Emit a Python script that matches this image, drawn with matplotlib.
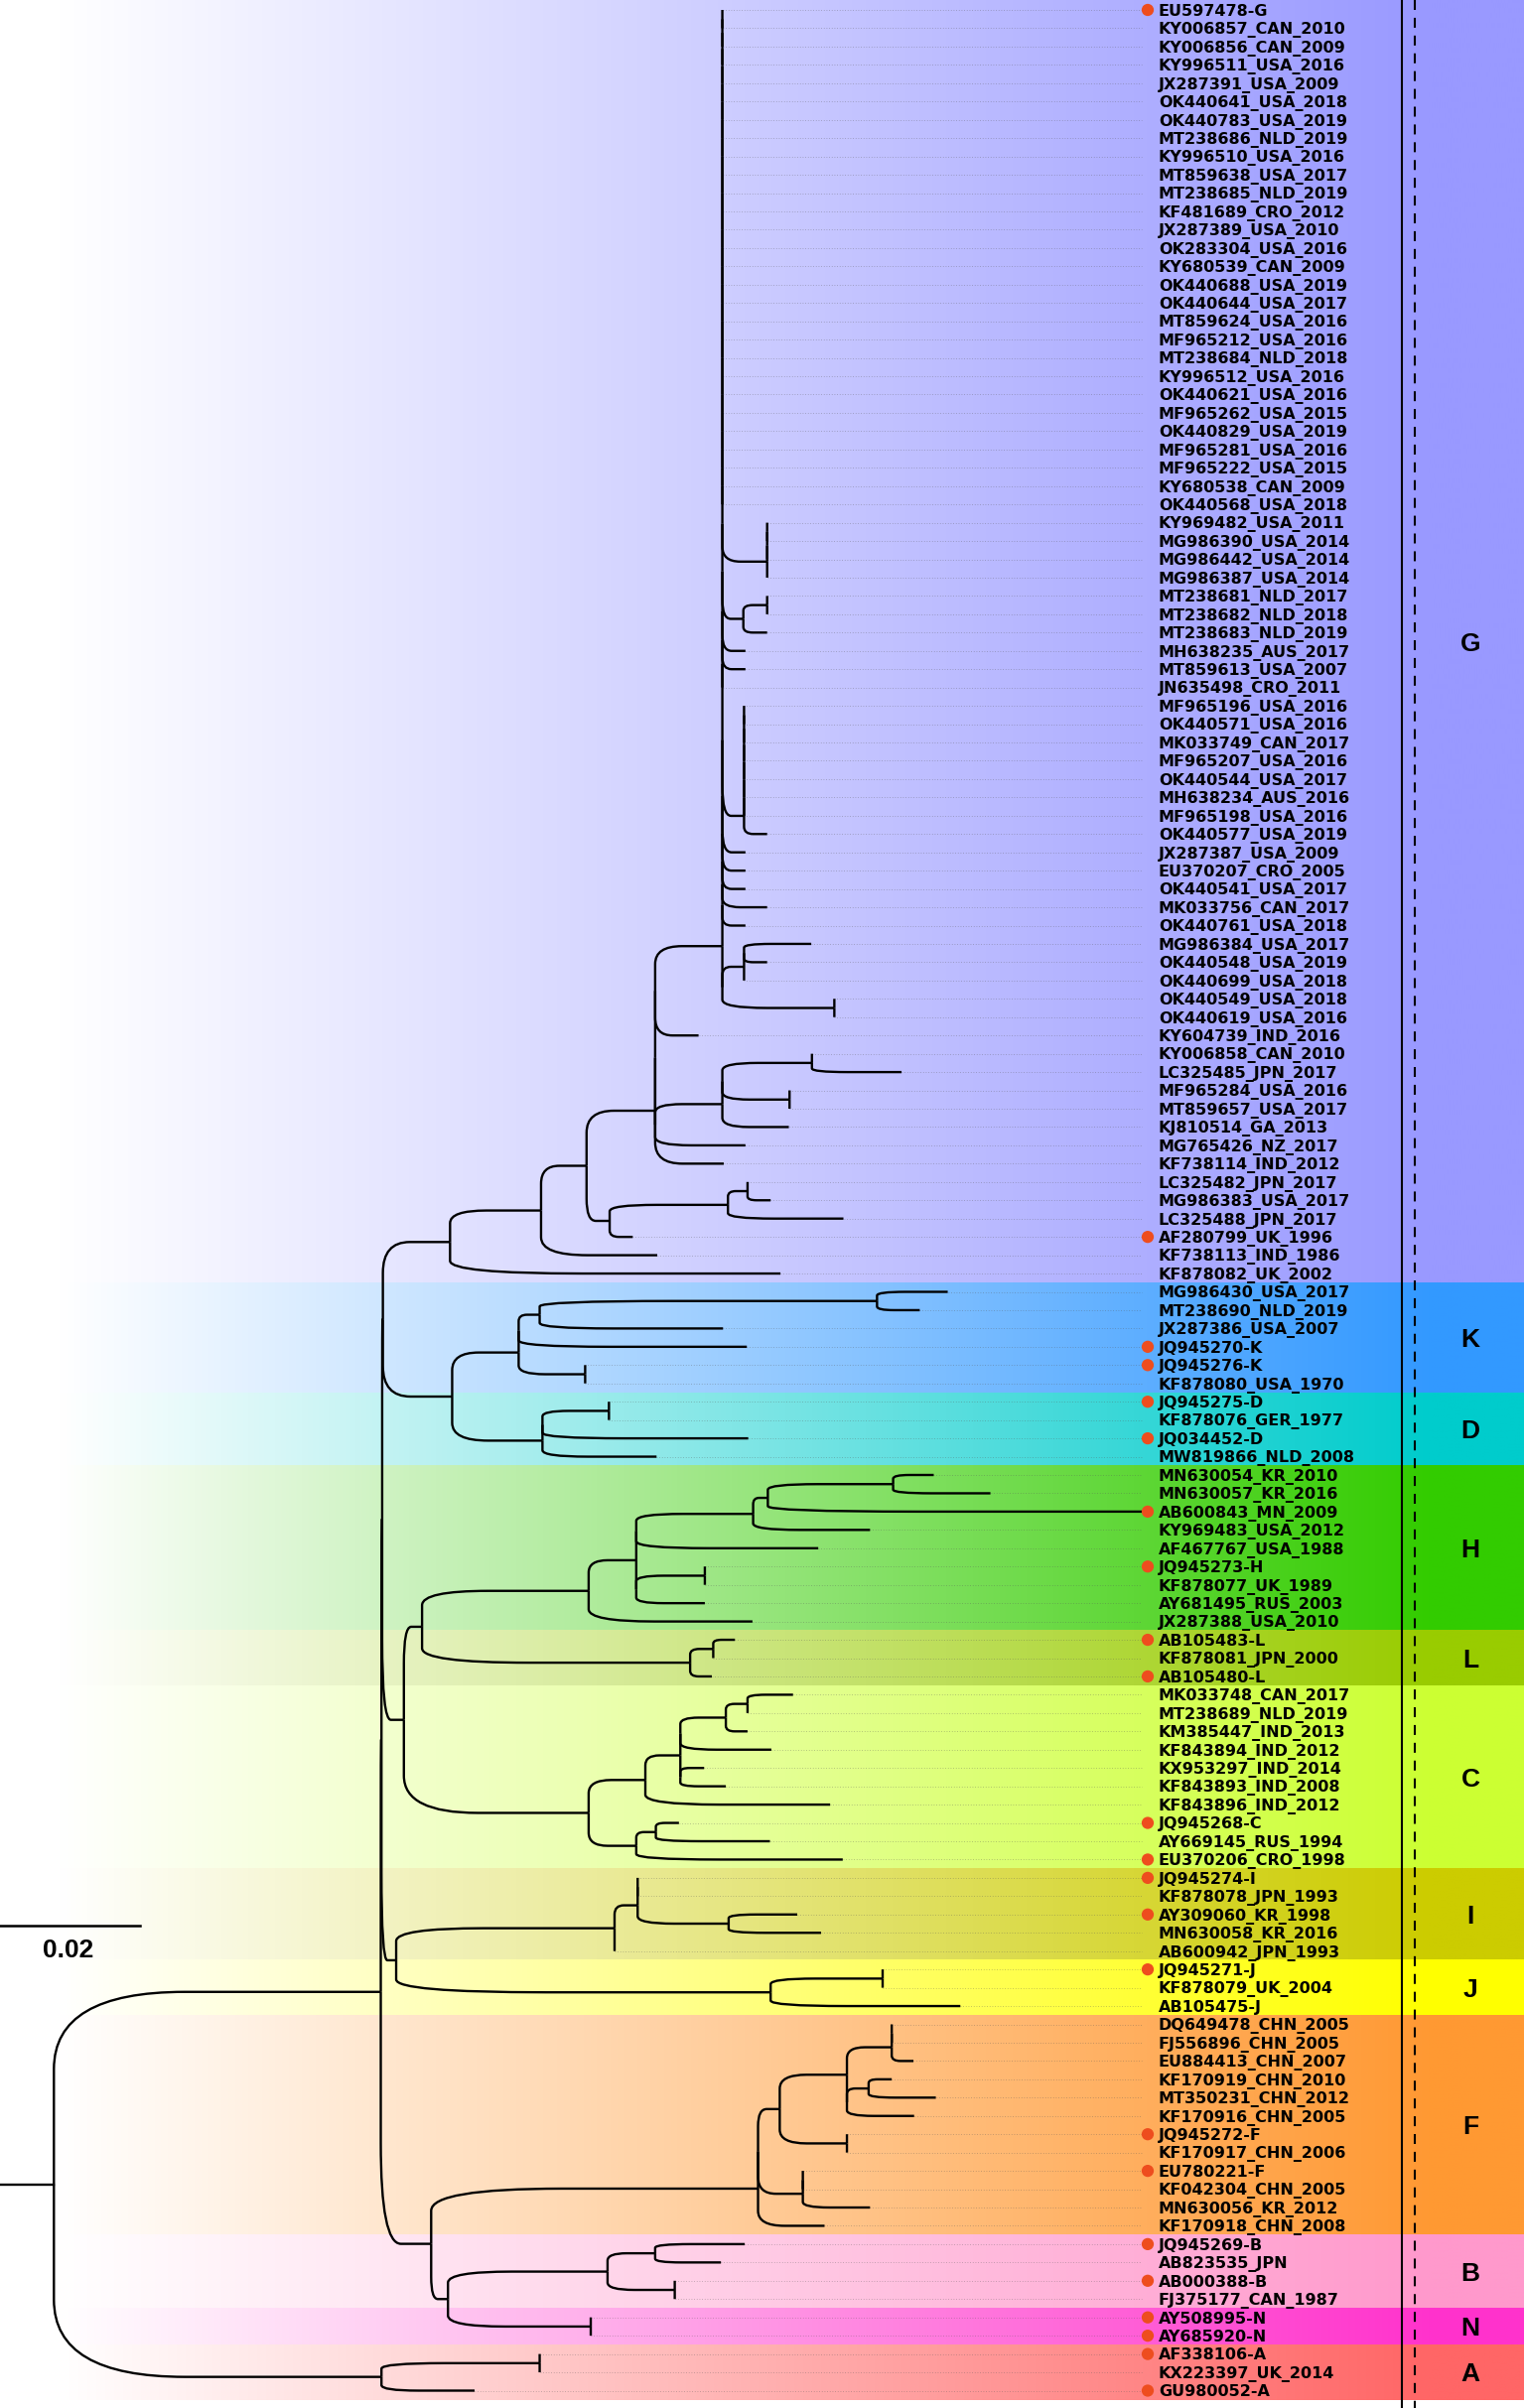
import numpy as np
import matplotlib
matplotlib.use("Agg")
import matplotlib.pyplot as plt
from matplotlib.path import Path
from matplotlib.patches import PathPatch

# ---- tree data: one Newick per genotype, branch lengths in substitutions/site ----
G_COMB = (
    "(EU597478-G:0,KY006857_CAN_2010:0,KY006856_CAN_2009:0,KY996511_USA_2016:0,"
    "JX287391_USA_2009:0,OK440641_USA_2018:0,OK440783_USA_2019:0,MT238686_NLD_2019:0,"
    "KY996510_USA_2016:0,MT859638_USA_2017:0,MT238685_NLD_2019:0,KF481689_CRO_2012:0,"
    "JX287389_USA_2010:0,OK283304_USA_2016:0,KY680539_CAN_2009:0,OK440688_USA_2019:0,"
    "OK440644_USA_2017:0,MT859624_USA_2016:0,MF965212_USA_2016:0,MT238684_NLD_2018:0,"
    "KY996512_USA_2016:0,OK440621_USA_2016:0,MF965262_USA_2015:0,OK440829_USA_2019:0,"
    "MF965281_USA_2016:0,MF965222_USA_2015:0,KY680538_CAN_2009:0,OK440568_USA_2018:0,"
    "(KY969482_USA_2011:0,MG986390_USA_2014:0,MG986442_USA_2014:0,MG986387_USA_2014:0):0.0064,"
    "((MT238681_NLD_2017:0,MT238682_NLD_2018:0):0.0034,MT238683_NLD_2019:0.0034):0.0030,"
    "MH638235_AUS_2017:0.0033,MT859613_USA_2007:0.0033,JN635498_CRO_2011:0,"
    "(MF965196_USA_2016:0,OK440571_USA_2016:0,MK033749_CAN_2017:0,MF965207_USA_2016:0,"
    "OK440544_USA_2017:0,MH638234_AUS_2016:0,MF965198_USA_2016:0,OK440577_USA_2019:0.0033):0.0031,"
    "JX287387_USA_2009:0.0033,EU370207_CRO_2005:0.0033,OK440541_USA_2017:0.0033,"
    "MK033756_CAN_2017:0.0064,OK440761_USA_2018:0.0033,"
    "((MG986384_USA_2017:0.0096,OK440548_USA_2019:0.0033,OK440699_USA_2018:0):0.0031,"
    "(OK440549_USA_2018:0,OK440619_USA_2016:0):0.0160):0)"
)
G_SIDE = ("((KY006858_CAN_2010:0,LC325485_JPN_2017:0.0128):0.0128,"
          "(MF965284_USA_2016:0,MT859657_USA_2017:0):0.0096,KJ810514_GA_2013:0.0095)")
G_LOW = ("(((LC325482_JPN_2017:0,MG986383_USA_2017:0.0033):0.0028,LC325488_JPN_2017:0.0165):0.0169,"
         "AF280799_UK_1996:0.0033)")
NWK_G = ("((((((" + G_COMB + ":0.0096,KY604739_IND_2016:0.0062):0,(" + G_SIDE +
         ":0.0096,MG765426_NZ_2017:0.0129):0):0,KF738114_IND_2012:0.0098):0.0098," + G_LOW +
         ":0.0033):0.0065,KF738113_IND_1986:0.0166):0.0130,KF878082_UK_2002:0.0472)")
NWK_K = ("(((MG986430_USA_2017:0.0101,MT238690_NLD_2019:0.0061):0.0482,JX287386_USA_2007:0.0262):0.0030,"
         "JQ945270-K:0.0326,(JQ945276-K:0,KF878080_USA_1970:0):0.0095)")
NWK_D = "((JQ945275-D:0,KF878076_GER_1977:0):0.0095,JQ034452-D:0.0294,MW819866_NLD_2008:0.0163)"
NWK_H = ("((((((MN630054_KR_2010:0.0058,MN630057_KR_2016:0.0139):0.0179,AB600843_MN_2009:0.0538):0.0021,"
         "KY969483_USA_2012:0.0167):0.0167,AF467767_USA_1988:0.0260):0,((JQ945273-H:0,KF878077_UK_1989:0)"
         ":0.0098,AY681495_RUS_2003:0.0098):0):0.0068,JX287388_USA_2010:0.0234)")
NWK_L = "((AB105483-L:0.0031,KF878081_JPN_2000:0):0.0033,AB105480-L:0.0031)"
NWK_C = ("((((((MK033748_CAN_2017:0.0065,MT238689_NLD_2019:0):0.0031,KM385447_IND_2013:0.0031):0.0065,"
         "KF843894_IND_2012:0.0130):0,(KX953297_IND_2014:0.0034,KF843893_IND_2008:0.0065):0):0.0050,"
         "KF843896_IND_2012:0.0264):0.0081,((JQ945268-C:0.0033,AY669145_RUS_1994:0.0163):0.0028,"
         "EU370206_CRO_1998:0.0295):0.0068)")
NWK_I = ("((JQ945274-I:0,KF878078_JPN_1993:0,(AY309060_KR_1998:0.0098,MN630058_KR_2016:0.0132):0.0130)"
         ":0.0033,AB600942_JPN_1993:0)")
NWK_J = "((JQ945271-J:0,KF878079_UK_2004:0):0.0160,AB105475-J:0.0271)"
NWK_F = ("((((DQ649478_CHN_2005:0,FJ556896_CHN_2005:0,EU884413_CHN_2007:0.0031):0.0064,"
         "((KF170919_CHN_2010:0.0033,MT350231_CHN_2012:0.0096):0.0031,KF170916_CHN_2005:0.0096):0):0.0096,"
         "(JQ945272-F:0,KF170917_CHN_2006:0):0.0096):0.0031,"
         "(EU780221-F:0,KF042304_CHN_2005:0,MN630056_KR_2012:0.0096):0.0064,KF170918_CHN_2008:0.0095)")
NWK_B = "((JQ945269-B:0.0128,AB823535_JPN:0.0094):0.0068,(AB000388-B:0,FJ375177_CAN_1987:0):0.0096)"
NWK_N = "(AY508995-N:0,AY685920-N:0)"
NWK_A = "((AF338106-A:0,KX223397_UK_2014:0):0.0226,GU980052-A:0.0133)"

BACKBONE = ("((((({G}:0.0096,({K}:0.0095,{D}:0.0129):0.0099):0.0001,(({H}:0.0238,{L}:0.0383):0.0026,"
            "{C}:0.0264):0.0031):0.0001,({I}:0.0312,{J}:0.0535):0.0021):0.0001,({F}:0.0467,"
            "({B}:0.0228,{N}:0.0204):0.0024):0.0072):0.0467,{A}:0.0468):0.0077;")

GENOTYPES = ["G", "K", "D", "H", "L", "C", "I", "J", "F", "B", "N", "A"]
GENO_NWK = [NWK_G, NWK_K, NWK_D, NWK_H, NWK_L, NWK_C, NWK_I, NWK_J, NWK_F, NWK_B, NWK_N, NWK_A]
GENO_COLORS = ["#9999FF", "#3399FF", "#00CCCC", "#33CC00", "#99CC00", "#CCFF33",
               "#CCCC00", "#FFFF00", "#FF9933", "#FF99CC", "#FF33CC", "#FF6666"]

MARKED = ["EU597478-G", "AF280799_UK_1996", "JQ945270-K", "JQ945276-K", "JQ945275-D", "JQ034452-D",
          "AB600843_MN_2009", "JQ945273-H", "AB105483-L", "AB105480-L", "JQ945268-C",
          "EU370206_CRO_1998", "JQ945274-I", "AY309060_KR_1998", "JQ945271-J", "JQ945272-F",
          "EU780221-F", "JQ945269-B", "AB000388-B", "AY508995-N", "AY685920-N", "AF338106-A",
          "GU980052-A"]

SCALE_LEN = 0.02

# ---- layout constants (pixels) ----
W, H = 1535, 2426
PX_PER_SUB = 141 / 0.02
ROW, Y0 = 18.45, 10
LEADER_END, DOT_X, LABEL_X = 1150, 1156, 1167
LETTER_X = 1481
CURV = 0.4


def parse_newick(s):
    s = s.strip().rstrip(";")
    pos = 0

    def node():
        nonlocal pos
        kids = []
        if s[pos] == "(":
            pos += 1
            kids.append(node())
            while s[pos] == ",":
                pos += 1
                kids.append(node())
            pos += 1
        start = pos
        while pos < len(s) and s[pos] not in ",():":
            pos += 1
        name = s[start:pos]
        length = 0.0
        if pos < len(s) and s[pos] == ":":
            pos += 1
            start = pos
            while pos < len(s) and s[pos] not in ",()":
                pos += 1
            length = float(s[start:pos])
        return {"name": name, "len": length, "kids": kids}

    return node()


def resolve(n):
    # polytomies -> ladder of zero-length nodes
    kids = [resolve(k) for k in n["kids"]]
    while len(kids) > 2:
        kids = [{"name": "", "len": 0.0, "kids": kids[:2]}] + kids[2:]
    n["kids"] = kids
    return n


leaves = []


def layout(n, x_parent):
    n["x"] = x_parent + n["len"] * PX_PER_SUB
    if not n["kids"]:
        n["y"] = Y0 + len(leaves) * ROW
        leaves.append(n)
    else:
        for k in n["kids"]:
            layout(k, n["x"])
        n["y"] = (n["kids"][0]["y"] + n["kids"][-1]["y"]) / 2


def leaf_names(n):
    if not n["kids"]:
        return [n["name"]]
    return [nm for k in n["kids"] for nm in leaf_names(k)]


tree = resolve(parse_newick(BACKBONE.format(**dict(zip(GENOTYPES, GENO_NWK)))))
layout(tree, 0.0)
row_of = {lf["name"]: i for i, lf in enumerate(leaves)}

fig = plt.figure(figsize=(W / 100, H / 100), dpi=100)
ax = fig.add_axes([0, 0, 1, 1])
ax.set_xlim(0, W)
ax.set_ylim(H, 0)
ax.axis("off")

# ---- coloured genotype bands (white -> colour gradient) ----
xs = np.linspace(0, W, 600)
t = np.clip((xs - 60) / (1440 - 60), 0, 1)
for g, nwk, col in zip(GENOTYPES, GENO_NWK, GENO_COLORS):
    rows = [row_of[nm] for nm in leaf_names(parse_newick(nwk))]
    top = Y0 + min(rows) * ROW - ROW / 2
    bot = Y0 + max(rows) * ROW + ROW / 2
    rgb = np.array(matplotlib.colors.to_rgb(col))
    img = 1 - t[:, None] * (1 - rgb[None, :])
    ax.imshow(img[None, :, :], extent=(0, W, bot, top), aspect="auto",
              interpolation="bilinear", zorder=0)
    cap = 0.716 * 19 * 100 / 72
    ax.text(LETTER_X, (top + bot) / 2 + cap / 2, g, ha="center", va="baseline",
            fontsize=19, fontweight="bold", family="Liberation Sans", zorder=5)
ax.set_xlim(0, W)
ax.set_ylim(H, 0)

# ---- branches ----
def branch(x0, y0, x1, y1):
    ym = y1 - (y1 - y0) * CURV
    xm = x0 + (x1 - x0) * CURV
    verts = [(x0, y0), (x0, ym), (x0, y1), (xm, y1), (x1, y1)]
    codes = [Path.MOVETO, Path.LINETO, Path.CURVE3, Path.CURVE3, Path.LINETO]
    ax.add_patch(PathPatch(Path(verts, codes), fill=False, lw=1.7, edgecolor="black",
                           capstyle="butt", joinstyle="round", zorder=3))


def draw(n):
    for k in n["kids"]:
        branch(n["x"], n["y"], k["x"], k["y"])
        draw(k)


draw(tree)
ax.plot([0, tree["x"]], [tree["y"], tree["y"]], color="black", lw=1.7, zorder=3)

# ---- leaders, dots, labels ----
lab_cap = 0.729 * 11.5 * 100 / 72
for lf in leaves:
    if lf["x"] < LEADER_END - 2:
        ax.plot([lf["x"], LEADER_END], [lf["y"], lf["y"]], color="#555555", lw=0.6,
                ls=(0, (1.0, 2.2)), alpha=0.45, zorder=2)
    ax.text(LABEL_X, lf["y"] + lab_cap / 2, lf["name"], ha="left", va="baseline",
            fontsize=11.5, fontweight="bold", family="DejaVu Sans", zorder=5)
mk = [lf for lf in leaves if lf["name"] in MARKED]
ax.scatter([DOT_X] * len(mk), [lf["y"] for lf in mk], s=78, color="#EE4D1E",
           edgecolors="none", zorder=6)

# ---- separator lines ----
ax.plot([1412, 1412], [0, H], color="black", lw=1.5, zorder=4)
ax.plot([1425, 1425], [0, H], color="black", lw=1.5, ls=(0, (4.8, 3.8)), zorder=4)

# ---- scale bar ----
ax.plot([0, SCALE_LEN * PX_PER_SUB], [1940, 1940], color="black", lw=1.8, zorder=4)
ax.text(SCALE_LEN * PX_PER_SUB / 2 - 2, 1972, f"{SCALE_LEN:g}", ha="center", va="baseline",
        fontsize=19, fontweight="bold", family="Liberation Sans", zorder=5)

fig.savefig("out.png", dpi=100)
